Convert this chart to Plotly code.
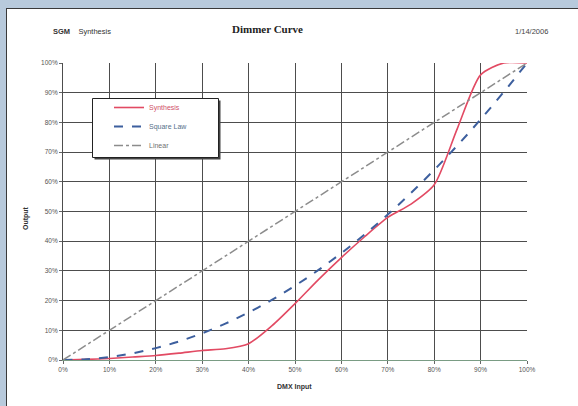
import plotly.graph_objects as go

# ---- data (percent) ----
dmx_input = [0, 5, 10, 15, 20, 25, 30, 35, 40, 45, 50, 55, 60, 65, 70, 75, 80, 85, 90, 95, 100]
synthesis = [0, 0.2, 0.5, 1, 1.5, 2.3, 3.2, 3.8, 5.5, 11.5, 19, 27, 34.5, 41.5, 48, 52.5, 59, 78, 96, 100, 100]
square_law = [0, 0.25, 1, 2.25, 4, 6.25, 9, 12.25, 16, 20.25, 25, 30.25, 36, 42.25, 49, 56.25, 64, 72.25, 81, 90.25, 100]
linear = [0, 5, 10, 15, 20, 25, 30, 35, 40, 45, 50, 55, 60, 65, 70, 75, 80, 85, 90, 95, 100]
tick_vals = [0, 10, 20, 30, 40, 50, 60, 70, 80, 90, 100]
tick_text = [f"{v}%" for v in tick_vals]

W, H = 578, 406
L, R, T, B = 63, 51, 63, 46
PW, PH = W - L - R, H - T - B


def px(x):
    return (x - L) / PW


def py(y):
    return (H - B - y) / PH


FONT = "Liberation Sans, Arial, sans-serif"
FRAME_BLUE = "#b8cadc"

fig = go.Figure()
fig.add_trace(go.Scatter(x=dmx_input, y=synthesis,
                         name="<span style='color:#d05068'>Synthesis</span>", mode="lines",
                         line=dict(color="#e24a63", width=1.6, shape="spline", smoothing=0.7),
                         cliponaxis=False))
fig.add_trace(go.Scatter(x=dmx_input, y=square_law,
                         name="<span style='color:#56708a'>Square Law</span>", mode="lines",
                         line=dict(color="#3d5f9e", width=2, dash="dash", shape="spline"),
                         cliponaxis=False))
fig.add_trace(go.Scatter(x=dmx_input, y=linear,
                         name="<span style='color:#707070'>Linear</span>", mode="lines",
                         line=dict(color="#8c8c8c", width=1.5, dash="dashdot"),
                         cliponaxis=False))

shapes = [
    # blue frame strips (left and top)
    dict(type="rect", xref="paper", yref="paper", layer="below",
         x0=px(-2), x1=px(6), y0=py(420), y1=py(-2),
         fillcolor=FRAME_BLUE, line=dict(width=0)),
    dict(type="rect", xref="paper", yref="paper", layer="below",
         x0=px(-2), x1=px(590), y0=py(8), y1=py(-2),
         fillcolor=FRAME_BLUE, line=dict(width=0)),
    # panel border lines
    dict(type="line", xref="paper", yref="paper", layer="below",
         x0=px(6.5), x1=px(6.5), y0=py(420), y1=py(8),
         line=dict(color="#3a3a3a", width=1)),
    dict(type="line", xref="paper", yref="paper", layer="below",
         x0=px(6), x1=px(590), y0=py(8.5), y1=py(8.5),
         line=dict(color="#3a3a3a", width=1)),
    # legend shadow
    dict(type="rect", xref="paper", yref="paper", layer="above",
         x0=px(94.5), x1=px(220.5), y0=py(159.5), y1=py(100.5),
         fillcolor="#444", line=dict(width=0)),
    # legend box
    dict(type="rect", xref="paper", yref="paper", layer="above",
         x0=px(92.5), x1=px(218.5), y0=py(157.5), y1=py(98.5),
         fillcolor="white", line=dict(color="#222", width=1)),
]

annotations = [
    dict(text="<b>SGM</b>    Synthesis", x=px(51), y=py(32), xref="paper", yref="paper",
         xanchor="left", yanchor="middle", showarrow=False,
         font=dict(size=7.5, color="#333", family=FONT)),
    dict(text="<b>Dimmer Curve</b>", x=px(267), y=py(29), xref="paper", yref="paper",
         xanchor="center", yanchor="middle", showarrow=False,
         font=dict(size=11, color="#222", family="Liberation Serif, Times New Roman, serif")),
    dict(text="1/14/2006", x=px(531), y=py(31), xref="paper", yref="paper",
         xanchor="center", yanchor="middle", showarrow=False,
         font=dict(size=7.5, color="#444", family=FONT)),
    dict(text="<b>Output</b>", x=px(26), y=py(218), xref="paper", yref="paper",
         xanchor="center", yanchor="middle", showarrow=False, textangle=-90,
         font=dict(size=7, color="#333", family=FONT)),
    dict(text="<b>DMX Input</b>", x=px(294), y=py(387), xref="paper", yref="paper",
         xanchor="center", yanchor="middle", showarrow=False,
         font=dict(size=7, color="#333", family=FONT)),
]

axis_common = dict(range=[0, 100], tickvals=tick_vals, ticktext=tick_text,
                   showgrid=True, gridcolor="#4d4d4d", gridwidth=1,
                   zeroline=False, ticks="outside", ticklen=3, tickcolor="#666",
                   tickfont=dict(size=6.5, color="#555", family=FONT), fixedrange=True)

fig.update_layout(
    width=W, height=H,
    margin=dict(l=L, r=R, t=T, b=B, pad=0),
    paper_bgcolor="white",
    plot_bgcolor="white",
    xaxis=dict(**axis_common, showline=True, linecolor="#7a9c84", linewidth=1),
    yaxis=dict(**axis_common, showline=True, linecolor="#4d4d4d", linewidth=1),
    showlegend=True,
    legend=dict(x=px(109), y=py(93), xanchor="left", yanchor="top",
                bgcolor="rgba(0,0,0,0)", borderwidth=0,
                font=dict(size=7, color="#444", family=FONT),
                itemwidth=30, tracegroupgap=0),
    shapes=shapes,
    annotations=annotations,
)

fig.write_html("out.html", config={"displayModeBar": False},
               post_script="document.body.style.margin='0';document.body.style.overflow='hidden';")
